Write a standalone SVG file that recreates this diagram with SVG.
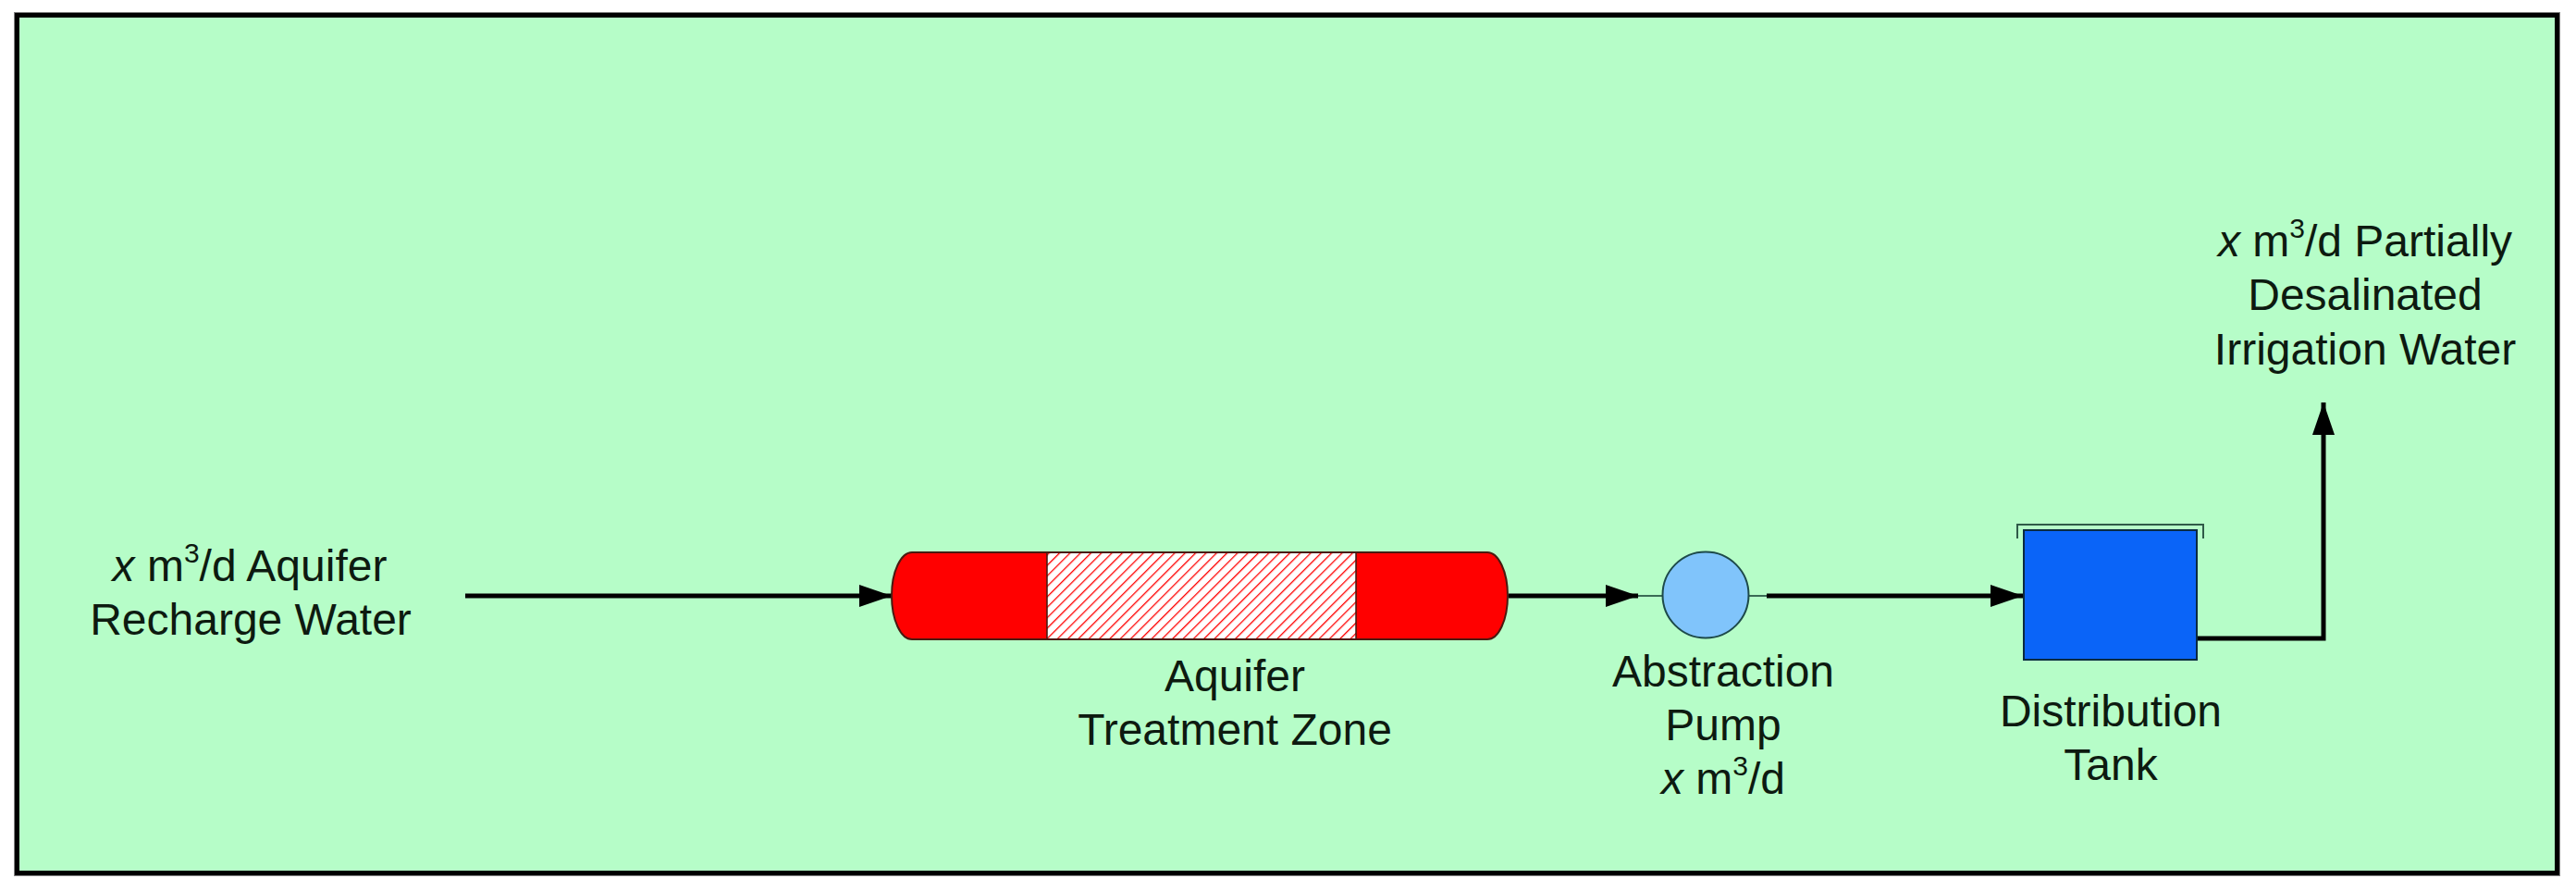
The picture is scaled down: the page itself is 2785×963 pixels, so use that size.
<svg xmlns="http://www.w3.org/2000/svg" width="2785" height="963" viewBox="0 0 2785 963">
<style>
.t{font-family:"Liberation Sans",Arial,sans-serif;font-size:48px;fill:#0d1a10;text-anchor:middle}
.c{stroke:#000;stroke-width:5;fill:none}
.stub{stroke:#3a6a55;stroke-width:2;fill:none}
</style>
<defs>
<pattern id="hatch" patternUnits="userSpaceOnUse" width="8" height="8" patternTransform="rotate(45)">
<rect width="8" height="8" fill="#ffffff"/>
<line x1="0" y1="0" x2="0" y2="8" stroke="#ff0000" stroke-width="2.6"/>
</pattern>
<marker id="ah" markerUnits="userSpaceOnUse" markerWidth="36" markerHeight="24" refX="35" refY="12" orient="auto">
<path d="M0,0 L35,12 L0,24 Z" fill="#000"/>
</marker>
</defs>
<rect x="0" y="0" width="2785" height="963" fill="#ffffff"/>
<g id="frame">
<rect x="16" y="14" width="2751" height="932" fill="none" stroke="#808080" stroke-width="2"/>
<rect x="18.5" y="16.5" width="2746" height="927" fill="#b6fdc8" stroke="#000" stroke-width="5"/>
</g>
<g id="connectors">
<line class="c" x1="503" y1="644" x2="964" y2="644" marker-end="url(#ah)"/>
<line class="c" x1="1631" y1="644" x2="1771" y2="644" marker-end="url(#ah)"/>
<line class="c" x1="1910" y1="644" x2="2187" y2="644" marker-end="url(#ah)"/>
<polyline class="c" points="2375,690 2512,690 2512,435" marker-end="url(#ah)"/>
</g>
<g id="recharge-label">
<text class="t" x="270" y="628"><tspan font-style="italic">x</tspan> m<tspan font-size="30" dy="-20">3</tspan><tspan dy="20">/d Aquifer</tspan></text>
<text class="t" x="271" y="686">Recharge Water</text>
</g>
<g id="aquifer">
<path d="M986,597 L1608,597 A22,47 0 0 1 1608,691 L986,691 A22,47 0 0 1 986,597 Z" fill="#ff0000"/>
<rect x="1132" y="597" width="334" height="94" fill="url(#hatch)"/>
<line x1="1132" y1="597" x2="1132" y2="691" stroke="#3a1a10" stroke-width="1.5"/>
<line x1="1466" y1="597" x2="1466" y2="691" stroke="#3a1a10" stroke-width="1.5"/>
<path d="M986,597 L1608,597 A22,47 0 0 1 1608,691 L986,691 A22,47 0 0 1 986,597 Z" fill="none" stroke="#4a1a10" stroke-width="2"/>
<text class="t" x="1335" y="747">Aquifer</text>
<text class="t" x="1335" y="805">Treatment Zone</text>
</g>
<g id="pump">
<line class="stub" x1="1771" y1="644" x2="1797" y2="644"/>
<line class="stub" x1="1890" y1="644" x2="1910" y2="644"/>
<circle cx="1844" cy="643" r="46.5" fill="#80c4fb" stroke="#1d4a4a" stroke-width="2"/>
<text class="t" x="1863" y="742">Abstraction</text>
<text class="t" x="1863" y="800">Pump</text>
<text class="t" x="1863" y="858"><tspan font-style="italic">x</tspan> m<tspan font-size="30" dy="-20">3</tspan><tspan dy="20">/d</tspan></text>
</g>
<g id="tank">
<rect x="2188" y="573" width="187" height="140" fill="#0a64f8" stroke="#0a2a40" stroke-width="2"/>
<polyline points="2181,582 2181,567 2382,567 2382,582" fill="none" stroke="#2f5a48" stroke-width="2"/>
<text class="t" x="2282" y="785">Distribution</text>
<text class="t" x="2282" y="843">Tank</text>
</g>
<g id="output-label">
<text class="t" x="2557" y="277"><tspan font-style="italic">x</tspan> m<tspan font-size="30" dy="-20">3</tspan><tspan dy="20">/d Partially</tspan></text>
<text class="t" x="2557" y="335">Desalinated</text>
<text class="t" x="2557" y="394">Irrigation Water</text>
</g>
</svg>
